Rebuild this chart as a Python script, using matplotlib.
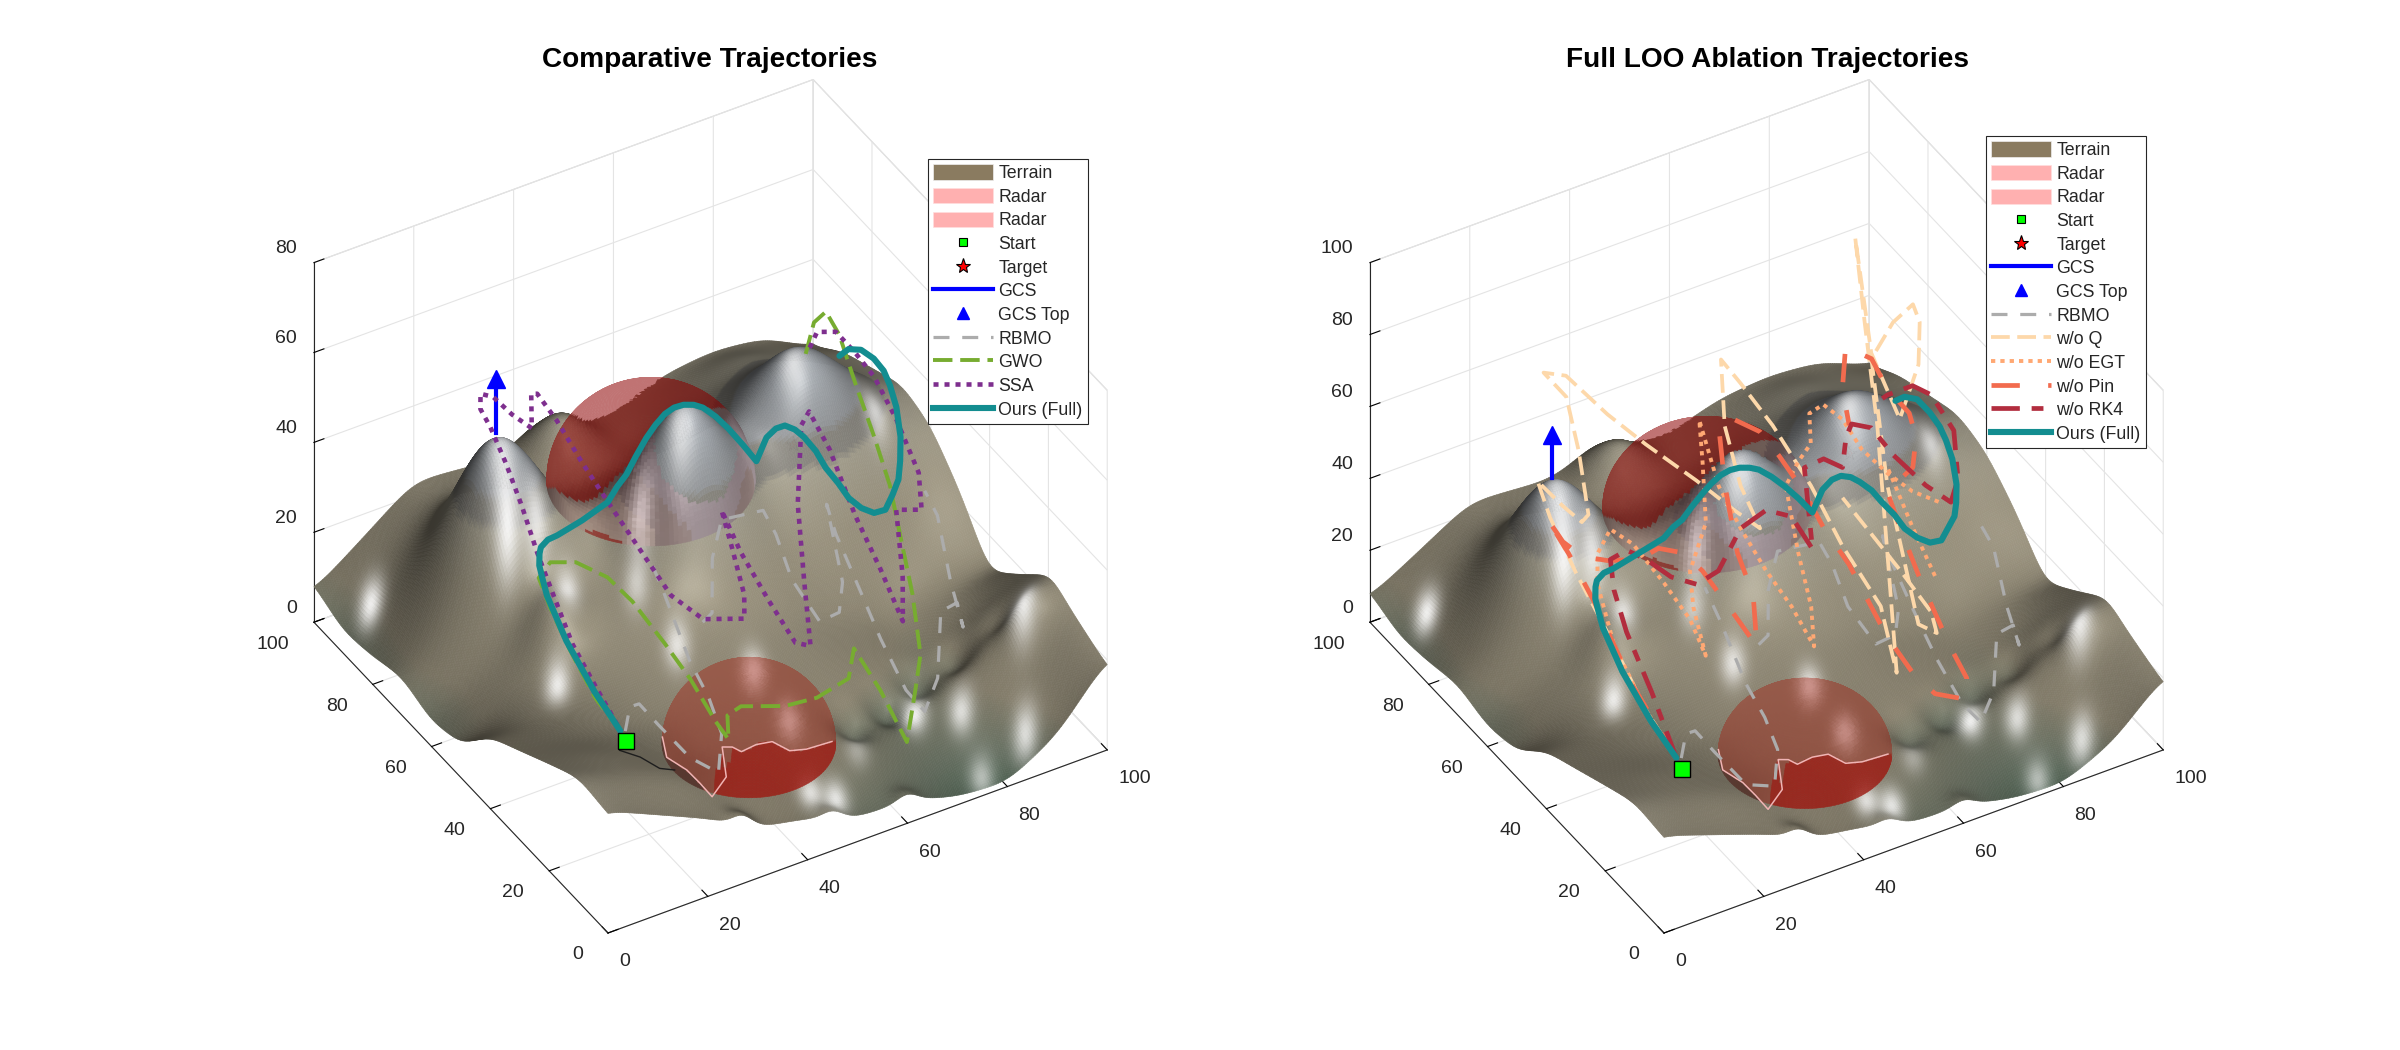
import numpy as np
import matplotlib
matplotlib.use("Agg")
import matplotlib.pyplot as plt
from matplotlib.lines import Line2D
from matplotlib.patches import Patch
from mpl_toolkits.mplot3d import proj3d
from mpl_toolkits.mplot3d.art3d import Poly3DCollection

plt.rcParams['font.family'] = ['Liberation Sans', 'DejaVu Sans']

# ---------------- values (estimates) ----------------
GRID_AXIS = [0, 10, 20, 30, 40, 50, 60, 70, 80, 90, 100]
# terrain height, rows y = 0..100, columns x = 0..100
TERRAIN = [
    [27, 22, 17, 11, 9, 5, 5, 1.5, 0.5, 7, 20],
    [28, 24, 20, 14, 11, 9, 7, 5, 6, 12, 23],
    [24, 22, 18, 14, 13, 13, 9, 7, 9, 18, 26],
    [20, 18, 16, 15, 16, 16, 14, 11, 8, 12, 19],
    [16, 15, 16, 18, 20, 20, 18, 14, 10, 12, 12],
    [7, 13, 18, 22, 25, 26, 25, 22, 20, 20, 23],
    [5, 12, 20, 24, 25, 27, 28, 30, 30, 30, 30],
    [7.5, 14, 20, 26, 27, 28, 30, 34, 36, 36, 32],
    [5, 14, 22, 24, 24, 26, 28, 34, 36, 34, 29],
    [4, 14, 22, 22, 20, 20, 22, 30, 34, 30, 26],
    [7.5, 15, 23, 22, 20, 20, 22, 26, 27, 26, 20],
]
# local relief: x, y, rise above the grid, width
SUMMITS = [(22, 75.5, 26, 7.5), (52, 62, 25, 7.5), (77.5, 65.5, 17, 8.5), (46, 94, 11, 5.5), (22, 55, 5, 4),
           (60, 19, -3, 2.5), (68, 21, -3, 2.5), (76, 24, -3, 2.5), (84, 24, -3, 2.5), (92, 22, -2.5, 2.5),
           (27, 0, 2, 2), (45, 0, 1.5, 2), (60, 0, 1.5, 2), (94, 18, 3, 3)]
# bright glints on the surface: x, y, strength
GLINTS = [(5, 89, .95), (20, 68, .9), (25, 67, .8), (26, 58, .8), (37, 53, .6), (17, 46, .9),
          (42, 60, .7), (50, 60, .7), (22, 74, .6), (76, 66, .7), (90, 62, .7), (72, 18, .95), (94, 18, .9),
          (79, 14, .8), (86, 4, .8), (48, 4, .85), (44, 6, .8), (57.5, 13, .4), (76, 2, .6), (38, 41, .8),
          (48, 32, .8), (48.6, 21, .7)]
# radar domes: x, y, base z, radius
RADARS = [(51, 72, 30, 18), (40, 20, 12, 15)]
RADAR_RIM = [(26.8, 27, 14), (24.6, 21.8, 14), (25.8, 17, 14), (25.9, 12.8, 14), (25.8, 8.4, 14), (30.7, 11.9, 14),
             (34.3, 19.4, 14), (35.8, 18.5, 14), (36.5, 16.6, 14), (39.7, 17, 14), (42.5, 16.3, 14), (43.8, 12.6, 14),
             (46.5, 11.5, 14), (51.4, 11.1, 14)]
CREASE = [(12.9, 17.9, 23), (15, 14.5, 23), (16.3, 10.1, 23), (18.3, 8.4, 23)]
START = (10, 11, 31)
TARGET = (90, 90, 10)
GCS_XY = (22, 75.5)
GCS_Z = (50, 62)
NA = (np.nan, np.nan, np.nan)

OURS = [(11.3, 15, 30), (11.7, 24.4, 32), (13.4, 36.9, 34), (15.6, 47.2, 36), (16.8, 50.6, 36.5), (18.1, 54.1, 37),
        (19.8, 56.9, 37), (20.9, 58.3, 37), (23, 59.5, 37), (25, 59.7, 37), (30.8, 61.1, 37), (35.3, 60, 40),
        (35.7, 57.5, 45), (35.6, 54.2, 50), (35.8, 51.3, 56), (36.1, 48.3, 62), (37.4, 47.4, 65), (38.5, 46, 68),
        (39.8, 45.1, 69.5), (41.3, 44.4, 70), (42.8, 43.5, 70), (44.4, 43.1, 69), (46.3, 42, 67), (48.4, 41.2, 64),
        (50.8, 40.4, 60), (52.4, 38.5, 57), (56.6, 42.2, 58), (59.9, 44.6, 57), (62.3, 45.6, 56), (65.1, 47, 53),
        (67.3, 47.6, 50), (70.9, 49.7, 44), (73.8, 51.3, 38), (75.4, 49.7, 35), (75.5, 46.3, 34), (76.6, 43.9, 33),
        (77.8, 41.6, 33), (79.3, 40.3, 34), (81.2, 41.1, 36), (81.1, 38.9, 41), (80.2, 36.8, 47), (79.8, 36, 53),
        (80.2, 38.1, 58), (80.4, 40.6, 61), (80.9, 43.6, 62), (82.4, 49.5, 60), (84.9, 58.1, 55), (84.4, 61.5, 53),
        (84, 63.9, 50)]
GWO = [(11.3, 15, 30), (12.2, 25, 30), (15.2, 38.8, 30), (18.2, 50.6, 30), (20.7, 58.7, 30), (24.6, 61.4, 30),
       (28.4, 59.2, 30), (31, 52.8, 30), (31.3, 44.8, 30), (30.2, 32, 30), (29, 21.2, 30), (26.8, 8.9, 30),
       (26.2, 3.5, 30), (29.4, 9.3, 30), (32.7, 10.3, 30), (39.3, 6.5, 30), (45.2, 5.7, 30), (55.8, 12.9, 25),
       (60.8, 19.6, 25), (62, 12.6, 20), (65, 8.7, 10), (70.4, 15, 15), (76.2, 23.1, 15), (74, 22.1, 30),
       (74.3, 26.9, 40), (73.3, 28.6, 50), (74.6, 36.1, 55), (76.2, 45.3, 60), (74.3, 47.5, 70), (72.4, 48.8, 75),
       (71, 50.5, 72), (70.8, 53.4, 62)]
SSA = [(11.7, 16.7, 30), (13.9, 27.9, 30), (16.4, 39.9, 30), (20.4, 53.1, 30), (20.8, 59.3, 35), (22, 66.7, 40),
       (19.3, 67.5, 50), (18.9, 72.1, 55), (16.8, 71.9, 60), (17.7, 73.4, 62), (20.4, 73.7, 60), (23.9, 73.2, 55),
       (24.9, 68.2, 55), (26.5, 71.1, 60), (27.4, 70.6, 60), (29.7, 67.8, 55), (30.7, 60.9, 50), (31.8, 52, 45),
       (36.2, 48.5, 35), (37.9, 42.9, 30), (42.5, 39.8, 25), (48.7, 36.3, 25), (48.9, 36.7, 30), (47.5, 38.6, 40),
       (47.9, 42.7, 45), (48, 36.3, 40), (51.7, 33.1, 30), (52.9, 26.1, 25), (54.7, 24, 25), (56.4, 29, 35),
       (60.1, 37.5, 45), (65.4, 45.3, 55), (66.6, 44.7, 58), (69.4, 42.5, 50), (70.2, 35.1, 40), (72.7, 30.7, 30),
       (71.9, 21.8, 25), (75.1, 27.3, 30), (77.1, 32.9, 40), (80.9, 30.7, 40), (82.5, 34.4, 45), (80.4, 38.5, 55),
       (79.9, 45.1, 60), (77.3, 47.2, 65), (74.2, 48.5, 70), (71.4, 50.1, 70), (70.1, 51.3, 65)]
RBMO = [(12, 14.5, 30), (16.1, 19.9, 30), (17.9, 19.8, 30), (17.8, 13.1, 30), (17.9, 2.5, 30), (29.5, 12.5, 15),
        (33.6, 18.4, 18), (34.2, 23.8, 22), (34.6, 30.9, 25), (37, 43.5, 30), (37, 49, 35), NA,
        (42, 39.1, 25), (44.7, 40.5, 25), (46.1, 42.8, 35), (52.9, 51.2, 35), (60.4, 49.8, 35), (60.2, 45.1, 33),
        (58.1, 36.1, 30), (59.5, 29, 25), (63.7, 29.5, 25), (65.3, 31.1, 30), (70.7, 45.7, 35), (69.8, 41, 32),
        (67.7, 28.7, 28), (68, 22.7, 22), (69, 15.8, 15), (70.7, 12.3, 12), (75.4, 15.9, 15), (78.9, 20.8, 25),
        (82.6, 21.5, 25), (83.2, 20.5, 20), (83.3, 24.9, 27), (85.6, 33.3, 35), (85.3, 37.1, 38)]
WO_Q = [(11.3, 15, 30), (13.5, 29.1, 30), (16.2, 46.8, 35), (17.4, 59.6, 40), (16.2, 66.2, 50), (14.4, 67.4, 60),
        (17.2, 63.7, 55), (20.3, 62.4, 50), (19.8, 59.3, 55), (17.2, 58.2, 75), (17.9, 63.6, 85), (15.4, 67.1, 90),
        (18.3, 64.4, 90), (24.1, 60.1, 80), (28.1, 53.9, 75), (35.6, 49.4, 65), (39.6, 43.2, 60), (43.4, 41, 55),
        (41.4, 44.2, 65), (39.9, 47.1, 80), (41.1, 50.4, 95), (43.2, 47.3, 90), (47.1, 43, 80), (51.9, 38.1, 65),
        (55.7, 33.9, 50), (60.5, 29, 35), (61.1, 24.6, 20), (63.7, 31.1, 35), (61.9, 30.3, 60), (60.2, 29.7, 85),
        (67.7, 46.7, 95), (75.6, 63.3, 100), (66.9, 43.1, 90), (66.9, 33.4, 80), (72.3, 36.2, 90), (75.9, 41.9, 95),
        (75.9, 44.2, 98), (71.9, 44.2, 95), (67.1, 43.4, 88), (63.3, 31.5, 65), (66.1, 25.7, 30), (68.6, 23.7, 28),
        (68.2, 24.9, 33), (63.4, 27.4, 45), (54.9, 32.5, 65)]
WO_EGT = [(11.3, 15, 30), (13.5, 29.1, 30), (18, 47.6, 30), (19, 54.9, 40), (18.2, 53.5, 50), (21, 53.9, 55),
          (24.8, 52.7, 50), (29, 49.2, 40), (32.8, 46.8, 30), (35.1, 45.4, 20), (32.5, 45.2, 35), (32, 45.5, 45),
          (34.6, 44.5, 58), (34, 44.6, 75), (34.4, 46.4, 85), (36.6, 43.5, 68), (39.5, 41, 57), (43.4, 39, 45),
          (47.2, 36.7, 35), (50.5, 34.7, 24), (50.1, 35, 35), (48.2, 36.2, 50), (46.6, 37.7, 68), (48.3, 36.4, 75),
          (50.2, 35.3, 80), (50.2, 35.8, 88), (52.5, 35, 90), (55.8, 34.1, 85), (58, 31.2, 78), (62.5, 30.1, 70),
          (66.2, 27.9, 65), (71.4, 26.9, 60), NA, (70.3, 27.2, 40), (66.2, 27.8, 55), (61.8, 28.9, 73)]
WO_PIN = [(11.3, 15, 30), (17.5, 40.3, 25), (18.5, 55.1, 35), (13.9, 56, 50), (10.6, 57.9, 60), (13.2, 56.8, 53),
          (15.5, 54.2, 50), (19.7, 52.7, 48), (24.6, 50.2, 48), (27, 47.7, 52), (31.1, 46.1, 50), (33.9, 44.4, 45),
          (38.2, 42, 34), (42, 39.7, 24), (41.6, 40.3, 38), (39.1, 41.4, 50), (37.5, 42.9, 68), (36.5, 43.4, 85),
          (38.7, 41.7, 87), (42.3, 39.2, 84), (45.3, 37.8, 77), (49, 35.5, 67), (51.9, 33.8, 57), (55.6, 31.5, 47),
          (58.4, 29.8, 37), (61.2, 28, 27), (65, 25.8, 17), (67.9, 23.1, 12), (72.8, 20.7, 10), (73.3, 21.5, 15),
          (71.1, 23.1, 23), (68.7, 24.6, 33), (66.4, 26.1, 43), (63.3, 27.2, 57), (61.4, 28.3, 67), (65.1, 25.9, 74),
          (65.8, 26, 82), (64.6, 26.3, 89), (61.7, 28.8, 95), (63.6, 37.4, 95), (61.4, 42.5, 95), (55, 32.7, 95),
          (56, 32.1, 85)]
WO_RK4 = [(11.3, 15, 30), (19.4, 37.1, 25), (21.6, 49.4, 30), (20.6, 52, 40), (20.3, 52.7, 48), (22.5, 50.9, 51),
          (25.6, 49.7, 48), (29.4, 47.5, 43), (33.2, 45.2, 41), (36.3, 43.1, 45), (39.5, 41, 57), (43.3, 38.8, 62),
          (47.2, 36.8, 60), (50.3, 34.9, 51), (48.9, 35.3, 74), (52, 34, 76), (54.6, 32, 74), (55.3, 32, 82),
          (56, 31.3, 86), (58.9, 29.5, 85), (62.4, 27.9, 77), (67.5, 25.6, 68), (70.9, 22.8, 64), (72.2, 22.6, 70),
          (71.3, 22.5, 84), (67.9, 24.4, 94), (65.4, 26.5, 96), (61.3, 28.2, 94), (59.7, 29.7, 91)]
TICKS_XY = [0, 20, 40, 60, 80, 100]
TICKS_Z_LEFT = [0, 20, 40, 60, 80]
TICKS_Z_RIGHT = [0, 20, 40, 60, 80, 100]
LABELS_LEFT = ["Terrain", "Radar", "Radar", "Start", "Target", "GCS", "GCS Top", "RBMO", "GWO", "SSA", "Ours (Full)"]
LABELS_RIGHT = ["Terrain", "Radar", "Radar", "Start", "Target", "GCS", "GCS Top", "RBMO", "w/o Q", "w/o EGT",
                "w/o Pin", "w/o RK4", "Ours (Full)"]

# ---------------- styles ----------------
ELEV, AZIM = 38.5, -120.5
BOX_Z = .793
STY = {
    "RBMO": dict(color="#acacac", lw=2.3, ls=(0, (5, 4))),
    "GWO": dict(color="#77ac30", lw=2.8, ls=(0, (5, 2))),
    "SSA": dict(color="#7e2f8e", lw=3.3, ls=(0, (1.1, 1.3))),
    "w/o Q": dict(color="#fdd8aa", lw=2.7, ls=(0, (5, 2))),
    "w/o EGT": dict(color="#ffa873", lw=2.8, ls=(0, (1.1, 1.3))),
    "w/o Pin": dict(color="#f26b4e", lw=3.4, ls=(0, (6, 6))),
    "w/o RK4": dict(color="#b22d3e", lw=3.4, ls=(0, (6, 2.5, 2.5, 2.5))),
    "Ours (Full)": dict(color="#138d90", lw=4.4, ls="-"),
}
GCS_COLOR = "#0000ff"
PX = 72 / 100  # points per pixel
PEAK_ONLY = 42  # only terrain above this height rises through the first dome


def smooth_terrain(n=230):
    """Resample the read height grid for display, as a shaded surface needs."""
    g = np.linspace(0, 100, n)
    t = np.array(TERRAIN, float)
    rows = np.array([np.interp(g, GRID_AXIS, r) for r in t])
    z = np.array([np.interp(g, GRID_AXIS, c) for c in rows.T]).T
    k = np.exp(-0.5 * (np.arange(-16, 17) / 6.0) ** 2)
    k /= k.sum()
    p = np.pad(z, 16, mode="edge")
    p = np.apply_along_axis(lambda r: np.convolve(r, k, mode="same"), 0, p)
    p = np.apply_along_axis(lambda r: np.convolve(r, k, mode="same"), 1, p)
    z = p[16:-16, 16:-16]
    X, Y = np.meshgrid(g, g)
    for sx, sy, h, w in SUMMITS:
        z = z + h * np.exp(-((X - sx) ** 2 + (Y - sy) ** 2) / (2 * w ** 2))
    return X, Y, z


def unit(v):
    v = np.asarray(v, float)
    return v / np.linalg.norm(v)


def camera():
    a, e = np.radians(AZIM), np.radians(ELEV)
    return np.array([np.cos(e) * np.cos(a), np.cos(e) * np.sin(a), np.sin(e)])


def terrain_shading(zscale):
    X, Y, Z = smooth_terrain()
    dy, dx = np.gradient(Z, Y[1, 0] - Y[0, 0], X[0, 1] - X[0, 0])
    n = np.dstack((-dx * zscale, -dy * zscale, np.ones_like(Z)))
    n /= np.linalg.norm(n, axis=2, keepdims=True)
    cam = camera()
    L = unit(cam + np.array([.3, -.15, .2]))
    H = unit(L + cam)
    dif = np.clip(n @ L, 0, 1)
    spec = np.clip(n @ H, 0, 1) ** 60
    lv = [0, 4, 10, 24, 34.9, 35, 39.9, 40, 48, 70]
    cols = np.array([[.30, .40, .33], [.42, .46, .40], [.58, .55, .47], [.62, .59, .51], [.68, .66, .59],
                     [.56, .55, .52], [.56, .55, .52], [.60, .61, .62], [.66, .68, .70], [.72, .74, .78]])
    base = np.dstack([np.interp(Z, lv, cols[:, i]) for i in range(3)])
    rgb = base * (.36 + .62 * dif)[..., None] + .10 * spec[..., None]
    glint = np.zeros_like(Z)
    sx, sy = .51, .86  # screen-vertical direction on the ground
    for gx, gy, s in GLINTS:
        along = (X - gx) * sx + (Y - gy) * sy
        across = (X - gx) * sy - (Y - gy) * sx
        glint += s * np.exp(-(along ** 2 / (2 * 3.0 ** 2) + across ** 2 / (2 * 1.5 ** 2)))
    rgb = rgb + (1 - rgb) * np.clip(glint, 0, 1)[..., None] * .95
    return X, Y, Z, np.clip(rgb, 0, 1)


def quads_of(X, Y, Z):
    v = np.dstack((X, Y, Z))
    return np.stack((v[:-1, :-1], v[:-1, 1:], v[1:, 1:], v[1:, :-1]), axis=2).reshape(-1, 4, 3)


def screen_axes():
    a, e = np.radians(AZIM), np.radians(ELEV)
    right = np.array([-np.sin(a), np.cos(a), 0])
    up = np.array([-np.cos(a) * np.sin(e), -np.sin(a) * np.sin(e), np.cos(e)])
    return right, up


def dome_polys(cx, cy, cz, r, zmax, tZ, tRGB, rim=None):
    """Front of a translucent dome; what lies behind it is seen along the view ray."""
    zscale = (100 / zmax) * BOX_Z
    T, P = np.meshgrid(np.linspace(0, 2 * np.pi, 141), np.linspace(0, np.pi / 2, 47))
    X = cx + r * np.cos(T) * np.cos(P)
    Y = cy + r * np.sin(T) * np.cos(P)
    Z = cz + r * np.sin(P)
    quads = quads_of(X, Y, Z)
    ctr = quads.mean(axis=1)
    nrm = np.c_[(ctr[:, 0] - cx), (ctr[:, 1] - cy), (ctr[:, 2] - cz) / zscale]
    cam = camera()
    keep = nrm @ cam > 0
    quads, ctr = quads[keep], ctr[keep]
    n = tZ.shape[0]
    idx = lambda v: np.clip(np.round(v / 100 * (n - 1)).astype(int), 0, n - 1)
    step = np.array([cam[0] * 100, cam[1] * 100, cam[2] / zscale * 100]) * .006
    ts = np.arange(1, 400)
    visible = np.ones(len(ctr), bool)
    behind = np.ones((len(ctr), 3))
    through_back = np.zeros(len(ctr), bool)
    for i, c in enumerate(ctr):
        near = c + np.outer(ts[:200], step)
        box = (near[:, 0] >= 0) & (near[:, 0] <= 100) & (near[:, 1] >= 0) & (near[:, 1] <= 100)
        nz = tZ[idx(near[:, 1]), idx(near[:, 0])]
        if np.any(box & (nz > near[:, 2]) & (nz > PEAK_ONLY)):
            visible[i] = False
            continue
        pts = c - np.outer(ts, step)
        box = (pts[:, 0] >= 0) & (pts[:, 0] <= 100) & (pts[:, 1] >= 0) & (pts[:, 1] <= 100)
        tz = tZ[idx(pts[:, 1]), idx(pts[:, 0])]
        hits = box & (pts[:, 2] <= tz)
        hit = np.argmax(hits) if hits.any() else len(ts)
        inside = ((pts[:, 0] - cx) ** 2 + (pts[:, 1] - cy) ** 2 + (pts[:, 2] - cz) ** 2 <= r ** 2) & (pts[:, 2] >= cz)
        out = np.argmax(~inside) if (~inside).any() else len(ts)
        if hit < len(ts):
            behind[i] = tRGB[idx(pts[hit, 1]), idx(pts[hit, 0])]
        through_back[i] = out < hit
    quads, ctr, behind, through_back = quads[visible], ctr[visible], behind[visible], through_back[visible]
    if rim is None:
        col = behind.copy()
        col[through_back] = col[through_back] * .45 + np.array([.55, .0, .0]) * .55
        col[~through_back] = col[~through_back] * .82 + np.array([.75, .4, .45]) * .18
    else:
        right, up = screen_axes()
        box_scale = np.array([.01, .01, BOX_Z / zmax])
        fr, fu = (ctr * box_scale) @ right, (ctr * box_scale) @ up
        rr, ru = (np.array(rim) * box_scale) @ right, (np.array(rim) * box_scale) @ up
        order = np.argsort(rr)
        below = fu < np.interp(fr, rr[order], ru[order])
        left = fr < rr[4]
        col = behind * .6 + np.array([.65, .1, .05]) * .4
        col[below] = behind[below] * .18 + np.array([.62, .1, .07]) * .82
        col[below & left] = behind[below & left] * .35 + np.array([.3, .12, .1]) * .65
    return quads, np.c_[col, np.ones(len(col))]


def draw_path(ax, pts, name, z=5):
    p = np.array(pts, float)
    s = STY[name]
    ax.plot(p[:, 0], p[:, 1], p[:, 2], color=s["color"], lw=s["lw"], ls=s["ls"], zorder=z,
            solid_capstyle="round", solid_joinstyle="round", dash_joinstyle="round", dash_capstyle="butt")


def build_handles(names):
    h = [Patch(fc="#8a7b60", ec="#eeeeee", lw=.5), Patch(fc="#ffb0b0", ec="#ffdddd", lw=.5),
         Patch(fc="#ffb0b0", ec="#ffdddd", lw=.5),
         Line2D([], [], ls="none", marker="s", ms=6, mfc="#00ff00", mec="k", mew=.8),
         Line2D([], [], ls="none", marker="*", ms=11, mfc="#ff0000", mec="k", mew=.8),
         Line2D([], [], color=GCS_COLOR, lw=3),
         Line2D([], [], ls="none", marker="^", ms=9, mfc=GCS_COLOR, mec=GCS_COLOR)]
    for n in names:
        s = STY[n]
        h.append(Line2D([], [], color=s["color"], lw=s["lw"], ls=s["ls"]))
    return h


def panel(fig, title, zmax, zticks, origin_px, x100_px, title_x, legend_xy, labels, paths, names, crease=False):
    ax = fig.add_subplot(projection="3d", proj_type="ortho", computed_zorder=False)
    ax.set_xlim(0, 100, view_margin=0)
    ax.set_ylim(0, 100, view_margin=0)
    ax.set_zlim(0, zmax, view_margin=0)
    ax.set_box_aspect((1, 1, BOX_Z))
    ax.view_init(elev=ELEV, azim=AZIM, roll=0)
    # place the box so that the axis corners fall where the reference has them
    W, H = fig.bbox.width, fig.bbox.height
    S0 = 900.
    c0 = np.array([W / 2, H / 2])
    ax.set_position([(c0[0] - S0 / 2) / W, (c0[1] - S0 / 2) / H, S0 / W, S0 / H])
    fig.canvas.draw()
    M = ax.get_proj()

    def pdata(x, y, z):
        a, b, _ = proj3d.proj_transform(x, y, z, M)
        return a, b

    def px(x, y, z):
        return ax.transData.transform(pdata(x, y, z))
    p0, p1 = px(0, 0, 0), px(100, 0, 0)
    c_now = np.array(ax.transAxes.transform((.5, .5)))
    tgt0 = np.array([origin_px[0], H - origin_px[1]], float)
    tgt1 = np.array([x100_px[0], H - x100_px[1]], float)
    s = np.linalg.norm(tgt1 - tgt0) / np.linalg.norm(p1 - p0)
    S = ax.get_position().width * W * s
    c_new = tgt0 - s * (p0 - c_now)
    ax.set_position([(c_new[0] - S / 2) / W, (c_new[1] - S / 2) / H, S / W, S / H])

    ax.patch.set_alpha(0)
    for a in (ax.xaxis, ax.yaxis, ax.zaxis):
        a.set_pane_color((1, 1, 1, 1))
        a.pane.set_edgecolor("#d4d4d4")
        a.pane.set_linewidth(.8)
        a.line.set_color("#262626")
        a.line.set_linewidth(.8)
        a._axinfo["grid"].update(color="#e4e4e4", linewidth=.8, linestyle="-")
        a._axinfo["tick"].update(inward_factor=0, outward_factor=.25, linewidth={True: .8, False: .5}, color="#262626")
    ax.grid(True)
    ax.set_xticks(TICKS_XY)
    ax.set_yticks(TICKS_XY)
    ax.set_zticks(zticks)
    ax.set_xticklabels([""] * len(TICKS_XY))
    ax.set_yticklabels([""] * len(TICKS_XY))
    ax.set_zticklabels([""] * len(zticks))
    ax.zaxis.set_ticks_position("upper")

    # tick labels, offset from each tick as in the reference
    lab = dict(fontsize=14, color="#262626", xycoords="data", textcoords="offset points", annotation_clip=False)
    for t in TICKS_XY:
        ax.annotate(str(t), pdata(t, 0, 0), xytext=(11 * PX, -29 * PX), ha="left", va="center", **lab)
        ax.annotate(str(t), pdata(0, t, 0), xytext=(-25 * PX, -22 * PX), ha="right", va="center", **lab)
    for t in zticks:
        ax.annotate(str(t), pdata(0, 100, t), xytext=(-17 * PX, 14 * PX), ha="right", va="center", **lab)

    tX, tY, tZ, tRGB = terrain_shading((100 / zmax) * BOX_Z)
    tq = quads_of(tX, tY, tZ)
    corner = (tRGB[:-1, :-1] + tRGB[1:, :-1] + tRGB[:-1, 1:] + tRGB[1:, 1:]) / 4
    tf = np.c_[corner.reshape(-1, 3), np.ones(tq.shape[0])]
    ax.add_collection3d(Poly3DCollection(tq, facecolors=tf, edgecolors=tf, linewidths=.4, antialiaseds=True,
                                         zsort="average", zorder=2), autolim=False)
    for i, (cx, cy, cz, r) in enumerate(RADARS):
        q, f = dome_polys(cx, cy, cz, r, zmax, tZ, tRGB, rim=RADAR_RIM if i == 1 else None)
        ax.add_collection3d(Poly3DCollection(q, facecolors=f, edgecolors=f, linewidths=.4, antialiaseds=True,
                                             zsort="average", zorder=2.5), autolim=False)
    ax.plot(*TARGET[:2], TARGET[2], ls="none", marker="*", ms=11, mfc="#ff0000", mec="k", zorder=1)

    rim = np.array(RADAR_RIM)
    ax.plot(rim[:, 0], rim[:, 1], rim[:, 2], color="#f0b4b4", lw=1.1, zorder=3)
    if crease:
        c = np.array(CREASE)
        ax.plot(c[:, 0], c[:, 1], c[:, 2], color="#1e1e1e", lw=1.0, zorder=3)
    ax.plot([GCS_XY[0]] * 2, [GCS_XY[1]] * 2, GCS_Z, color=GCS_COLOR, lw=3.0, zorder=4)
    ax.plot([GCS_XY[0]], [GCS_XY[1]], [GCS_Z[1]], ls="none", marker="^", ms=13, mfc=GCS_COLOR, mec=GCS_COLOR, zorder=4)
    for i, (pts, n) in enumerate(zip(paths, names)):
        draw_path(ax, pts, n, z=5 + i)
    ax.plot([START[0]], [START[1]], [START[2]], ls="none", marker="s", ms=11, mfc="#00ff00", mec="k", mew=1, zorder=30)

    fig.text(title_x / W, 1 - 60 / H, title, ha="center", va="center", fontsize=20.2, fontweight="bold", color="k")
    fig.legend(build_handles(names), labels, loc="upper left", bbox_to_anchor=(legend_xy[0] / W, 1 - legend_xy[1] / H),
               bbox_transform=fig.transFigure, fontsize=12.8, frameon=True, fancybox=False, framealpha=1,
               edgecolor="#262626", handlelength=3.35, handleheight=.95, handletextpad=.3, labelspacing=.33,
               borderpad=.3, borderaxespad=0, labelcolor="#262626").get_frame().set_linewidth(.8)
    return ax


fig = plt.figure(figsize=(24, 10.5), dpi=100, facecolor="white")
panel(fig, "Comparative Trajectories", 80, TICKS_Z_LEFT, (608, 933), (1108, 752), 710, (928, 159),
      LABELS_LEFT, [RBMO, GWO, SSA, OURS], ["RBMO", "GWO", "SSA", "Ours (Full)"], crease=True)
panel(fig, "Full LOO Ablation Trajectories", 100, TICKS_Z_RIGHT, (1664, 933), (2164, 752), 1768, (1986, 136),
      LABELS_RIGHT, [RBMO, WO_Q, WO_EGT, WO_PIN, WO_RK4, OURS],
      ["RBMO", "w/o Q", "w/o EGT", "w/o Pin", "w/o RK4", "Ours (Full)"])
fig.savefig("out.png", dpi=100)
